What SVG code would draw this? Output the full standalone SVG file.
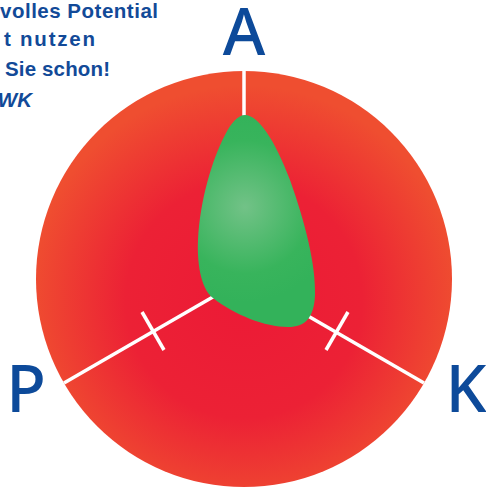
<svg xmlns="http://www.w3.org/2000/svg" width="486" height="488" viewBox="0 0 486 488">
<defs>
<radialGradient id="red" cx="244" cy="300" r="215" gradientUnits="userSpaceOnUse">
<stop offset="0" stop-color="#ec1a36"/>
<stop offset="0.55" stop-color="#ec2135"/>
<stop offset="1" stop-color="#ef4e30"/>
</radialGradient>
<radialGradient id="green" cx="245" cy="207" r="95" gradientUnits="userSpaceOnUse">
<stop offset="0" stop-color="#72c287"/>
<stop offset="0.7" stop-color="#38b45c"/>
<stop offset="1" stop-color="#33b25a"/>
</radialGradient>
</defs>
<style>
.hdr{font-family:"Liberation Sans",Arial,sans-serif;font-weight:bold;font-size:20.5px;fill:#124a98}
.axis{font-family:"Noto Sans","DejaVu Sans",sans-serif;font-weight:500;font-size:65px;fill:#0d4a9a}
.ln{stroke:#ffffff;stroke-width:3.5;fill:none}
</style>
<g id="header">
<text class="hdr" x="0" y="18" textLength="158" lengthAdjust="spacing">volles Potential</text>
<text class="hdr" x="4" y="46" textLength="91" lengthAdjust="spacing">t nutzen</text>
<text class="hdr" x="5" y="76" textLength="105" lengthAdjust="spacing">Sie schon!</text>
<text class="hdr" x="32" y="107" text-anchor="end" font-style="italic">WK</text>
</g>
<g id="circle">
<circle cx="244" cy="279" r="208" fill="url(#red)"/>
</g>
<g id="connectors">
<line class="ln" x1="244" y1="70" x2="244" y2="279"/>
<line class="ln" x1="244" y1="279" x2="64" y2="383"/>
<line class="ln" x1="244" y1="279" x2="424" y2="383"/>
<line class="ln" x1="142" y1="312" x2="164" y2="350"/>
<line class="ln" x1="348" y1="312" x2="326" y2="350"/>
</g>
<g id="blob">
<path fill="url(#green)" d="M245,115 C258,115 275,140 290,180 C305,222 316,265 315,295 C314,318 305,327 288,327 C265,327 235,315 213,298 C200,288 197,260 198,240 C200,200 212,160 225,135 C231,123 238,115 245,115 Z"/>
</g>
<g id="node-A"><text class="axis" x="244" y="55" text-anchor="middle">A</text></g>
<g id="node-P"><text class="axis" x="26" y="412" text-anchor="middle">P</text></g>
<g id="node-K"><text class="axis" x="466" y="412" text-anchor="middle">K</text></g>
</svg>
